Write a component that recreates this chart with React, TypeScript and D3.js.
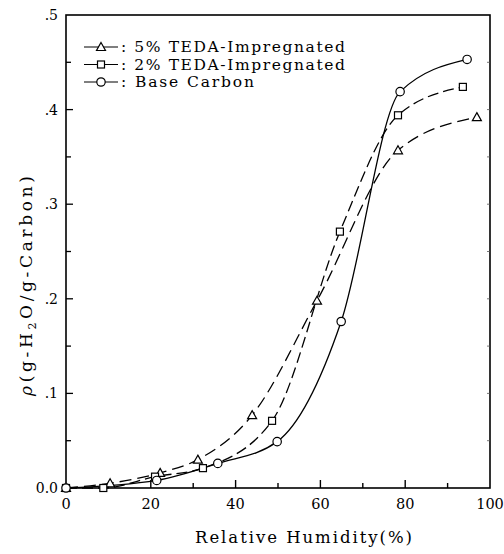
import React, { useEffect, useRef } from 'react';
import * as d3 from 'd3';

// relative humidity (%) and water uptake (g-H2O / g-Carbon)
const tedaFiveX = [0, 10.4, 22.2, 31.1, 43.9, 59.2, 78.3, 96.9];
const tedaFiveY = [0, 0.005, 0.016, 0.030, 0.077, 0.198, 0.357, 0.392];
const tedaTwoX = [0, 8.8, 21, 32.3, 48.6, 64.6, 78.3, 93.6];
const tedaTwoY = [0, 0.0, 0.012, 0.021, 0.071, 0.271, 0.394, 0.424];
const baseX = [0, 21.4, 35.8, 49.8, 64.9, 78.8, 94.6];
const baseY = [0, 0.008, 0.026, 0.049, 0.176, 0.419, 0.453];

const seriesNames = [': 5% TEDA-Impregnated', ': 2% TEDA-Impregnated', ': Base Carbon'];
const xTicks = [0, 20, 40, 60, 80, 100];
const yTicks = [0, 0.1, 0.2, 0.3, 0.4, 0.5];
const yTickLabels = ['0.0', '.1', '.2', '.3', '.4', '.5'];

const W = 504;
const H = 554;
const FONT = '"DejaVu Serif", "Liberation Serif", serif';

const App = () => {
  const svgRef = useRef<SVGSVGElement>(null);

  useEffect(() => {
    const svg = d3.select(svgRef.current);
    svg.selectAll('*').remove();

    const x = d3.scaleLinear().domain([0, 100]).range([66, 490]);
    const y = d3.scaleLinear().domain([0, 0.5]).range([488, 15]);

    const series = [
      { xs: tedaFiveX, ys: tedaFiveY, marker: 'tri', dash: '12,6' },
      { xs: tedaTwoX, ys: tedaTwoY, marker: 'sq', dash: '11,5' },
      { xs: baseX, ys: baseY, marker: 'circ', dash: null },
    ];

    // frame
    svg.append('rect')
      .attr('x', x(0)).attr('y', y(0.5))
      .attr('width', x(100) - x(0)).attr('height', y(0) - y(0.5))
      .attr('fill', 'none').attr('stroke', '#000').attr('stroke-width', 1.6);

    // x ticks (inside)
    const xMinor = d3.range(10, 100, 10);
    svg.append('g').selectAll('line').data(xMinor).enter().append('line')
      .attr('x1', d => x(d)).attr('x2', d => x(d))
      .attr('y1', y(0)).attr('y2', d => y(0) - (d % 20 === 0 ? 8 : 5))
      .attr('stroke', '#000').attr('stroke-width', 1.4);

    // y ticks left and right
    const yMinor = d3.range(0.05, 0.5, 0.05);
    svg.append('g').selectAll('line').data(yMinor).enter().append('line')
      .attr('x1', x(0)).attr('x2', (d, i) => x(0) + (i % 2 === 1 ? 7 : 5))
      .attr('y1', d => y(d)).attr('y2', d => y(d))
      .attr('stroke', '#000').attr('stroke-width', 1.3);
    svg.append('g').selectAll('line').data(yMinor).enter().append('line')
      .attr('x1', x(100)).attr('x2', x(100) - 3)
      .attr('y1', d => y(d)).attr('y2', d => y(d))
      .attr('stroke', '#555').attr('stroke-width', 0.8);

    svg.append('g').selectAll('text').data(xTicks).enter().append('text')
      .attr('x', d => x(d)).attr('y', 509)
      .attr('text-anchor', 'middle')
      .attr('font-family', FONT).attr('font-size', 14.5)
      .text(d => d);

    svg.append('g').selectAll('text').data(yTicks).enter().append('text')
      .attr('x', 58).attr('y', d => y(d) + 5)
      .attr('text-anchor', 'end')
      .attr('font-family', FONT).attr('font-size', 14)
      .text((d, i) => yTickLabels[i]);

    svg.append('text')
      .attr('x', 195).attr('y', 543)
      .attr('font-family', FONT).attr('font-size', 16.5)
      .attr('textLength', 217).attr('lengthAdjust', 'spacing')
      .text('Relative Humidity(%)');

    const yl = svg.append('text')
      .attr('transform', 'translate(32,396) rotate(-90)')
      .attr('font-family', FONT).attr('font-size', 17)
      .attr('textLength', 220).attr('lengthAdjust', 'spacing');
    yl.append('tspan').attr('font-style', 'italic').text('ρ');
    yl.append('tspan').text('(g-H');
    yl.append('tspan').attr('font-size', 11).attr('dy', 4).text('2');
    yl.append('tspan').attr('dy', -4).text('O/g-Carbon)');

    const drawMarker = (g, type, cx, cy) => {
      if (type === 'tri') {
        g.append('path')
          .attr('d', `M${cx},${cy - 4.5}L${cx + 4.5},${cy + 3.5}L${cx - 4.5},${cy + 3.5}Z`)
          .attr('fill', '#fff').attr('stroke', '#000').attr('stroke-width', 1.2);
      } else if (type === 'sq') {
        g.append('rect')
          .attr('x', cx - 3.5).attr('y', cy - 3.5).attr('width', 7).attr('height', 7)
          .attr('fill', '#fff').attr('stroke', '#000').attr('stroke-width', 1.2);
      } else {
        g.append('circle')
          .attr('cx', cx).attr('cy', cy).attr('r', 4.2)
          .attr('fill', '#fff').attr('stroke', '#000').attr('stroke-width', 1.2);
      }
    };

    const line = d3.line<number[]>()
      .x(d => x(d[0]))
      .y(d => y(d[1]))
      .curve(d3.curveMonotoneX);

    series.forEach(s => {
      const pts = s.xs.map((v, i) => [v, s.ys[i]]);
      svg.append('path')
        .datum(pts)
        .attr('d', line)
        .attr('fill', 'none')
        .attr('stroke', '#000')
        .attr('stroke-width', 1.3)
        .attr('stroke-dasharray', s.dash);
    });
    series.forEach(s => {
      const g = svg.append('g');
      s.xs.forEach((v, i) => drawMarker(g, s.marker, x(v), y(s.ys[i])));
    });

    // legend
    const legendLen = [224, 224, 133];
    const leg = svg.append('g');
    series.forEach((s, i) => {
      const ly = 47 + i * 17.5;
      leg.append('line')
        .attr('x1', 84).attr('x2', 118).attr('y1', ly).attr('y2', ly)
        .attr('stroke', '#000').attr('stroke-width', 1.2);
      drawMarker(leg, s.marker, 101, ly);
      leg.append('text')
        .attr('x', 121).attr('y', ly + 5)
        .attr('font-family', FONT).attr('font-size', 15.5)
        .attr('textLength', legendLen[i]).attr('lengthAdjust', 'spacing')
        .text(seriesNames[i]);
    });
  }, []);

  return (
    <svg ref={svgRef} width={W} height={H}
      style={{ position: 'absolute', left: 0, top: 0, background: '#fff' }} />
  );
};

export default App;
